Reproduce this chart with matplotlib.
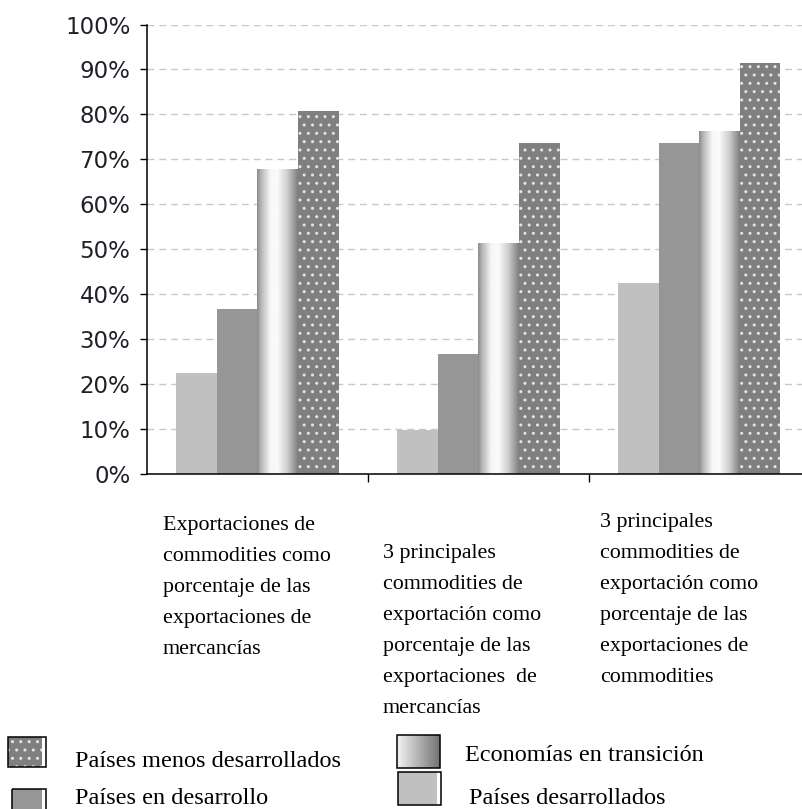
import matplotlib.pyplot as plt
from matplotlib.patches import Rectangle
import numpy as np

# values (percent)
categories = ["Exportaciones de\ncommodities como\nporcentaje de las\nexportaciones de\nmercancías",
              "3 principales\ncommodities de\nexportación como\nporcentaje de las\nexportaciones  de\nmercancías",
              "3 principales\ncommodities de\nexportación como\nporcentaje de las\nexportaciones de\ncommodities"]
desarrollados = [22.5, 9.8, 42.6]
en_desarrollo = [36.7, 26.8, 73.6]
transicion = [67.7, 51.3, 76.1]
menos_desarrollados = [80.7, 73.6, 91.5]
yticks = np.arange(0, 101, 10)

serif = 'Liberation Serif'
W, H = 803, 809


def gradient_bar(ax, x0, x1, top):
    gx = np.linspace(0, 1, 80)
    g = np.interp(gx, [0, 0.1, 0.33, 0.5, 0.75, 1.0], [0.55, 0.72, 0.97, 0.98, 0.8, 0.5])
    ax.imshow(g[None, :], extent=(x0, x1, 0, top), aspect='auto', cmap='gray',
              vmin=0, vmax=1, zorder=2, interpolation='bilinear')


fig = plt.figure(figsize=(W / 100, H / 100), dpi=100)
ax = fig.add_axes([147 / W, (H - 474.2) / H, (W - 147) / W, (474.2 - 24.5) / H])

x = np.arange(len(categories))
w = 0.184
ax.bar(x - 1.5 * w, desarrollados, w, color='#c0c0c0', zorder=2)
ax.bar(x - 0.5 * w, en_desarrollo, w, color='#969696', zorder=2)
for xi, v in zip(x, transicion):
    gradient_bar(ax, xi, xi + w, v)
ax.bar(x + 1.5 * w, menos_desarrollados, w, color='#7f7f7f', edgecolor='#e4e4e4',
       hatch='..', linewidth=0, zorder=2)

ax.set_xlim(-0.5, 2.47)
ax.set_ylim(0, 100)
ax.set_yticks(yticks)
ax.set_yticklabels([f"{v}%" for v in yticks], fontsize=16.5, color='#202028')
ax.set_xticks([0.5, 1.5])
ax.set_xticklabels([])
ax.tick_params(axis='y', direction='out', length=5, width=1, pad=7)
ax.tick_params(axis='x', direction='out', length=6, width=1)
ax.grid(axis='y', color='#c8c8c8', linestyle=(0, (5, 3.5)), linewidth=1, zorder=0)
ax.set_axisbelow(True)
for s in ['top', 'right']:
    ax.spines[s].set_visible(False)
ax.spines['left'].set_linewidth(1.1)
ax.spines['bottom'].set_linewidth(1.1)

# overlay in pixel coordinates for category texts and legend
lax = fig.add_axes([0, 0, 1, 1])
lax.set_xlim(0, W)
lax.set_ylim(H, 0)
lax.set_axis_off()

label_pos = [(163, 516), (383, 544), (600, 513)]
for (lx, ly), txt in zip(label_pos, categories):
    lax.text(lx, ly, txt, fontsize=15.8, family=serif, va='top', ha='left', linespacing=1.86)


def swatch(x0, y0, x1, y1, kind):
    if kind == 'grad':
        gx = np.linspace(0, 1, 60)
        g = np.interp(gx, [0, 1], [0.95, 0.45])
        lax.imshow(g[None, :], extent=(x0, x1, y1, y0), aspect='auto', cmap='gray',
                   vmin=0, vmax=1, interpolation='bilinear')
    elif kind == 'dots':
        lax.add_patch(Rectangle((x0, y0), x1 - x0 - 4, y1 - y0, facecolor='#7f7f7f',
                                edgecolor='#e4e4e4', hatch='..', linewidth=0))
        lax.add_patch(Rectangle((x1 - 4, y0), 4, y1 - y0, facecolor='white', linewidth=0))
    else:
        lax.add_patch(Rectangle((x0, y0), x1 - x0 - 4, y1 - y0, facecolor=kind, linewidth=0))
        lax.add_patch(Rectangle((x1 - 4, y0), 4, y1 - y0, facecolor='white', linewidth=0))
    lax.add_patch(Rectangle((x0, y0), x1 - x0, y1 - y0, fill=False, edgecolor='black', linewidth=1.1))


swatch(8, 737, 46, 767, 'dots')
swatch(12, 789, 46, 814, '#969696')
swatch(397, 735, 440, 768, 'grad')
swatch(398, 772, 441, 805, '#c0c0c0')
lax.text(75, 767, "Países menos desarrollados", fontsize=17.5, family=serif, va='baseline')
lax.text(75, 804, "Países en desarrollo", fontsize=17.5, family=serif, va='baseline')
lax.text(465, 761, "Economías en transición", fontsize=17.5, family=serif, va='baseline')
lax.text(469, 804, "Países desarrollados", fontsize=17.5, family=serif, va='baseline')

fig.savefig('out.png', dpi=100)
